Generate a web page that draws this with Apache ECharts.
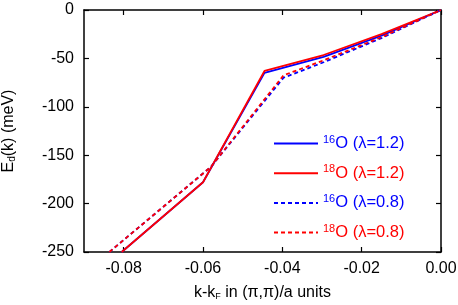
<!DOCTYPE html>
<html>
<head>
<meta charset="utf-8">
<script src="https://cdn.jsdelivr.net/npm/echarts@6/dist/echarts.min.js"></script>
<style>html,body{margin:0;padding:0;background:#fff}#c{width:458px;height:305px}</style>
</head>
<body>
<div id="c"></div>
<script>
// Data
const xTicks = [-0.08, -0.06, -0.04, -0.02, 0];
const kSolid = [-0.0805, -0.06, -0.0445, -0.0296, -0.015, 0];
const eO16_l12 = [-250, -178, -65, -48.5, -26.5, 0];
const eO18_l12 = [-250, -178, -63, -46.5, -25, 0];
const kDashed = [-0.0836, -0.058, -0.0397, -0.0296, -0.015, 0];
const eO16_l08 = [-250, -162, -70, -54, -29, 0];
const eO18_l08 = [-250, -162, -67.5, -52, -28, 0];
const seriesNames = ['16O (λ=1.2)', '18O (λ=1.2)', '16O (λ=0.8) ', '18O (λ=0.8) '];

const FONT = 'Liberation Sans';
const BLUE = '#0000ff', RED = '#ff0000';
const zip = (xs, ys) => xs.map((x, i) => [x, ys[i]]);

function mk(name, xs, ys, color, dashed) {
  return {
    name, type: 'line', data: zip(xs, ys), symbol: 'none', clip: true,
    lineStyle: { color, width: 1.8, type: dashed ? [4, 3] : 'solid' },
    itemStyle: { color }
  };
}

const axisLine = { show: true, onZero: false, lineStyle: { color: '#000', width: 1.5 } };
const tick = { show: true, inside: true, length: 5, lineStyle: { color: '#000', width: 1.2 } };

const chart = echarts.init(document.getElementById('c'), null, { renderer: 'canvas' });
chart.setOption({
  animation: false,
  grid: { left: 84, right: 17, top: 10, bottom: 53, containLabel: false, outerBoundsMode: 'none' },
  textStyle: { fontFamily: FONT },
  xAxis: [{
    type: 'value', min: -0.09, max: 0, position: 'bottom',
    axisLine, splitLine: { show: false },
    axisTick: Object.assign({ customValues: xTicks }, tick),
    axisLabel: { customValues: xTicks, formatter: v => v.toFixed(2), fontSize: 16, color: '#000', margin: 9, fontFamily: FONT },
    name: 'k-k{sub|F} in (π,π)/a units', nameLocation: 'middle', nameGap: 33,
    nameTextStyle: { fontSize: 16, color: '#000', fontFamily: FONT,
      rich: { sub: { fontSize: 9, verticalAlign: 'bottom', color: '#000', fontFamily: FONT } } }
  }, {
    type: 'value', min: -0.09, max: 0, position: 'top',
    axisLine, splitLine: { show: false },
    axisTick: Object.assign({ customValues: xTicks }, tick),
    axisLabel: { show: false }
  }],
  yAxis: [{
    type: 'value', min: -250, max: 0, interval: 50, position: 'left',
    axisLine, splitLine: { show: false }, axisTick: tick,
    axisLabel: { fontSize: 16, color: '#000', margin: 10, fontFamily: FONT },
    name: 'E{sub|d}(k) (meV)', nameLocation: 'middle', nameGap: 67, nameRotate: 90,
    nameTextStyle: { fontSize: 16, color: '#000', fontFamily: FONT,
      rich: { sub: { fontSize: 10, verticalAlign: 'bottom', color: '#000', fontFamily: FONT } } }
  }, {
    type: 'value', min: -250, max: 0, interval: 50, position: 'right',
    axisLine, splitLine: { show: false }, axisTick: tick, axisLabel: { show: false }
  }],
  legend: {
    orient: 'vertical', left: 273, top: 134, padding: 0, itemWidth: 44, itemHeight: 14, itemGap: 11.7,
    selectedMode: false, data: seriesNames,
    itemStyle: { color: 'rgba(0,0,0,0)', borderWidth: 0, opacity: 0 },
    formatter: function (name) {
      const blue = name.startsWith('16');
      const c = blue ? 'b' : 'r';
      const rest = name.slice(2).trim();
      return '{' + c + 's|' + name.slice(0, 2) + '}{' + c + 'n|' + rest + '}';
    },
    textStyle: {
      fontFamily: FONT,
      rich: {
        bs: { fontSize: 11, color: BLUE, verticalAlign: 'top', fontFamily: FONT },
        bn: { fontSize: 16.5, color: BLUE, lineHeight: 19, fontFamily: FONT },
        rs: { fontSize: 11, color: RED, verticalAlign: 'top', fontFamily: FONT },
        rn: { fontSize: 16.5, color: RED, lineHeight: 19, fontFamily: FONT }
      }
    }
  },
  series: [
    mk(seriesNames[0], kSolid, eO16_l12, BLUE, false),
    mk(seriesNames[1], kSolid, eO18_l12, RED, false),
    mk(seriesNames[2], kDashed, eO16_l08, BLUE, true),
    mk(seriesNames[3], kDashed, eO18_l08, RED, true)
  ]
});
</script>
</body>
</html>
